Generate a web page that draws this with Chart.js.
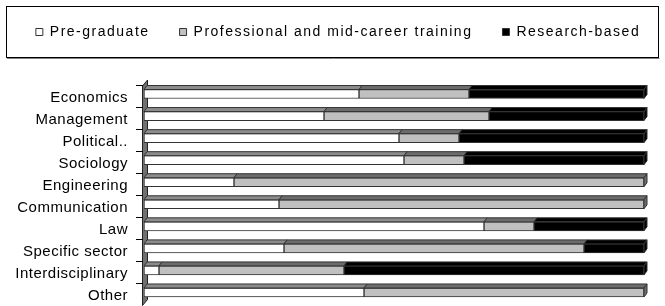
<!DOCTYPE html>
<html>
<head>
<meta charset="utf-8">
<script src="https://cdn.jsdelivr.net/npm/chart.js@4/dist/chart.umd.min.js"></script>
<style>
  html, body { margin: 0; padding: 0; background: #ffffff; }
  #wrap { width: 665px; height: 306px; position: relative; }
</style>
</head>
<body>
<div id="wrap"><canvas id="c" width="665" height="306"></canvas></div>
<script>
// ---- Data (percent of each row) ----
const categories = ['Economics', 'Management', 'Political..', 'Sociology', 'Engineering',
                    'Communication', 'Law', 'Specific sector', 'Interdisciplinary', 'Other'];
const seriesNames = ['Pre-graduate', 'Professional and mid-career training', 'Research-based'];
const preGraduate  = [43, 36, 51, 52, 18, 27, 68, 28,  3, 44];
const professional = [22, 33, 12, 12, 82, 73, 10, 60, 37, 56];
const research     = [35, 31, 37, 36,  0,  0, 22, 12, 60,  0];

// ---- Styles ----
const frontColors = ['#ffffff', '#c0c0c0', '#000000'];
const topColors   = ['#8c8c8c', '#6c6c6c', '#000000'];
const sideColors  = ['#8c8c8c', '#6c6c6c', '#000000'];
const edge = '#333333';
const FONT = "'Liberation Sans', Arial, sans-serif";
const AXIS_SPACING = '0.5px';
const LEGEND_SPACING = '1.5px';

function withSpacing(obj, name, spacing) {
  const orig = obj[name].bind(obj);
  obj[name] = function (...args) {
    const c = this.ctx;
    const prev = c.letterSpacing;
    c.letterSpacing = spacing;
    const r = orig(...args);
    c.letterSpacing = prev;
    return r;
  };
}

const spacingPlugin = {
  id: 'spacing',
  beforeLayout(chart) {
    chart.ctx.letterSpacing = AXIS_SPACING;
    const lg = chart.legend;
    if (lg && !lg._spaced) {
      withSpacing(lg, 'fit', LEGEND_SPACING);
      withSpacing(lg, 'draw', LEGEND_SPACING);
      lg._spaced = true;
    }
  },
  beforeDraw(chart) { chart.ctx.letterSpacing = AXIS_SPACING; }
};

// place the legend row over the same span as the reference
const legendShift = {
  id: 'legendShift',
  afterLayout(chart) {
    const lg = chart.legend;
    if (!lg || !lg.lineWidths) return;
    const pad = lg.options.labels.padding;
    const lw = lg.lineWidths[0];
    const cw = lw - pad;
    const start = (lg.left + pad + lg.right - lw) / 2;
    const target = 345 - (cw + 14) / 2;
    const s = target - start;
    lg.left += s; lg.right += s;
    lg.top -= 5; lg.bottom -= 5;
  }
};

const frame = {
  id: 'frame',
  afterDraw(chart) {
    const ctx = chart.ctx;
    ctx.save();
    ctx.strokeStyle = '#000';
    ctx.lineWidth = 1;
    ctx.strokeRect(6.5, 6.5, 652, 51);
    ctx.strokeStyle = '#808080';
    ctx.beginPath();
    ctx.moveTo(7, 58.5); ctx.lineTo(659.5, 58.5);
    ctx.stroke();
    ctx.restore();
  }
};

function drawWall(chart) {
  const {ctx, chartArea} = chart;
  const l = chartArea.left;
  const els = chart.getDatasetMeta(0).data;
  if (!els.length) return;
  const ys = els.map(e => e.getProps(['y'], true).y);
  const step = ys.length > 1 ? (ys[ys.length - 1] - ys[0]) / (ys.length - 1) : 22;
  const top = ys[0] - step / 2;
  const bottom = ys[ys.length - 1] + step / 2;
  ctx.save();
  ctx.letterSpacing = '0px';
  ctx.fillStyle = '#707070';
  ctx.strokeStyle = '#222222';
  ctx.lineWidth = 1;
  ctx.beginPath();
  ctx.moveTo(l - 1.5, top + 3);
  ctx.lineTo(l + 3.5, top - 3);
  ctx.lineTo(l + 3.5, bottom - 4);
  ctx.lineTo(l - 1.5, bottom + 2);
  ctx.closePath();
  ctx.fill();
  ctx.stroke();
  ctx.strokeStyle = '#000000';
  ctx.beginPath();
  for (let k = 0; k <= ys.length; k++) {
    const yy = Math.round(top + k * step + 2) + 0.5;
    ctx.moveTo(l - 8, yy);
    ctx.lineTo(l - 1, yy);
  }
  ctx.stroke();
  ctx.restore();
}

const bar3d = {
  id: 'bar3d',
  beforeDatasetDraw(chart, args) {
    if (args.index === 0) drawWall(chart);
  },
  afterDatasetsDraw(chart) {
    const ctx = chart.ctx;
    const d = 3, dh = 4;
    const nSets = chart.data.datasets.length;
    const nRows = chart.data.labels.length;
    ctx.save();
    ctx.lineWidth = 1;
    ctx.strokeStyle = edge;
    for (let j = 0; j < nRows; j++) {
      let lastIdx = -1;
      for (let i = 0; i < nSets; i++) {
        if (chart.data.datasets[i].data[j] > 0) lastIdx = i;
      }
      for (let i = 0; i < nSets; i++) {
        const el = chart.getDatasetMeta(i).data[j];
        const p = el.getProps(['x', 'y', 'base', 'height'], true);
        const left = Math.min(p.x, p.base), right = Math.max(p.x, p.base);
        if (right - left < 0.5) continue;
        const top = p.y - p.height / 2;
        ctx.fillStyle = topColors[i];
        ctx.beginPath();
        ctx.moveTo(left, top);
        ctx.lineTo(left + d, top - dh);
        ctx.lineTo(right + d, top - dh);
        ctx.lineTo(right, top);
        ctx.closePath();
        ctx.fill();
        ctx.stroke();
        if (i === lastIdx) {
          ctx.fillStyle = sideColors[i];
          ctx.beginPath();
          ctx.moveTo(right, top);
          ctx.lineTo(right + d, top - dh);
          ctx.lineTo(right + d, top + p.height - dh);
          ctx.lineTo(right, top + p.height);
          ctx.closePath();
          ctx.fill();
          ctx.stroke();
        }
      }
    }
    ctx.restore();
  }
};

const seriesValues = [preGraduate, professional, research];
const datasets = seriesNames.map((name, i) => ({
  label: name,
  data: seriesValues[i],
  backgroundColor: frontColors[i],
  borderColor: edge,
  borderWidth: 1,
  borderSkipped: false,
  barThickness: 9
}));

new Chart(document.getElementById('c'), {
  type: 'bar',
  data: { labels: categories, datasets },
  options: {
    indexAxis: 'y',
    responsive: false,
    animation: false,
    devicePixelRatio: 1,
    layout: { padding: { top: 0, right: 0, bottom: 2.5, left: 0 } },
    scales: {
      x: { stacked: true, min: 0, max: 100, display: false },
      y: {
        stacked: true,
        grid: { display: false, tickLength: 7 },
        border: { display: false },
        ticks: { color: '#000', font: { family: FONT, size: 15 }, padding: 9, labelOffset: 3.5, autoSkip: false },
        afterFit(scale) {
          scale.width = 144;
          scale.paddingTop = 0;
          scale.paddingBottom = 0;
        }
      },
      yRight: {
        type: 'linear',
        position: 'right',
        min: 0, max: 1,
        grid: { display: false },
        border: { display: false },
        ticks: { display: false },
        afterFit(scale) {
          scale.width = 21;
          scale.paddingTop = 0;
          scale.paddingBottom = 0;
        }
      }
    },
    plugins: {
      legend: {
        display: true,
        position: 'top',
        weight: 3000,
        labels: {
          color: '#000',
          font: { family: FONT, size: 14 },
          boxWidth: 7,
          boxHeight: 7,
          padding: 30
        }
      },
      title: {
        display: true,
        text: '',
        font: { size: 1, lineHeight: 1 },
        padding: { top: 0, bottom: 28 }
      },
      tooltip: { enabled: false }
    }
  },
  plugins: [spacingPlugin, legendShift, bar3d, frame]
});
</script>
</body>
</html>
